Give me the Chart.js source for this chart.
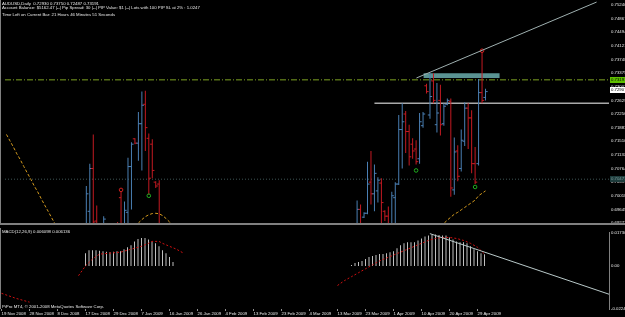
<!DOCTYPE html>
<html>
<head>
<meta charset="utf-8">
<script src="https://cdn.jsdelivr.net/npm/chart.js@4.4.0/dist/chart.umd.min.js"></script>
<style>
  html, body { margin: 0; padding: 0; background: #000; }
  #wrap { position: relative; width: 625px; height: 317px; overflow: hidden; background: #000; }
  canvas { position: absolute; left: 0; }
  #price { top: 0; }
  #macd { top: 228px; }
  .txt { position: absolute; left: 2px; color: #e8e8e8; font-family: "Liberation Sans", Arial, sans-serif;
         font-size: 4.3px; line-height: 5px; white-space: pre; }
</style>
</head>
<body>
<div id="wrap">
  <canvas id="price" width="625" height="228"></canvas>
  <canvas id="macd" width="625" height="89"></canvas>
  <div class="txt" style="top:1px">AUDUSD,Daily  0.72930 0.73750 0.72487 0.73191</div>
  <div class="txt" style="top:5px">Account Balance: $5162.47 |--| Pip Spread: 30 |--| PIP Value: $1 |--| Lots with 100 PIP SL at 2% : 1.0247</div>
  <div class="txt" style="top:12px">Time Left on Current Bar: 21 Hours 46 Minutes 51 Seconds</div>
  <div class="txt" style="top:229px">MACD(12,26,9) 0.006098 0.006136</div>
  <div class="txt" style="top:303.5px">PiPro MT4, &copy; 2001-2008 MetaQuotes Software Corp.</div>
</div>
<script>
// time axis (bar index -> date label)
const dateLabels = ['19 Nov 2008', '28 Nov 2008', '8 Dec 2008', '17 Dec 2008', '29 Dec 2008', '7 Jan 2009',
  '16 Jan 2009', '26 Jan 2009', '4 Feb 2009', '13 Feb 2009', '23 Feb 2009', '4 Mar 2009', '13 Mar 2009',
  '23 Mar 2009', '1 Apr 2009', '10 Apr 2009', '20 Apr 2009', '29 Apr 2009'];
const dateBars = [0, 8, 16, 24, 32, 40, 48, 56, 64, 72, 80, 88, 96, 104, 112, 120, 128, 136];

// price scale labels
const priceTicks = [0.75240, 0.74867, 0.74494, 0.74121, 0.73748, 0.73375, 0.73002, 0.72629, 0.72256,
  0.71883, 0.71510, 0.71137, 0.70764, 0.70391, 0.70018, 0.69645, 0.69272];

// daily OHLC bars that show inside the window (others are below it)
const barIdx = [23, 24, 25, 26, 28, 32, 33, 34, 35, 36, 37, 38, 39, 40, 41, 42, 43, 44,
  101, 102, 103, 104, 105, 106, 107, 108, 109, 110, 111, 112, 113, 114, 115, 116, 117, 118, 119, 120,
  121, 122, 123, 124, 125, 126, 127, 128, 129, 130, 131, 132, 133, 134, 135, 136, 137, 138];
const barOpen = [0.69112, 0.69592, 0.70764, 0.69326, 0.69032, 0.69219, 0.69965, 0.69165, 0.69565, 0.70817,
  0.71577, 0.71457, 0.71990, 0.72522, 0.71590, 0.71430, 0.70391, 0.70338,
  0.69112, 0.69645, 0.69432, 0.69539, 0.70391, 0.70071, 0.70151, 0.70365, 0.69592, 0.69459, 0.69219, 0.69965,
  0.70338, 0.71830, 0.72256, 0.71776, 0.71430, 0.71297, 0.71031, 0.71936, 0.73028, 0.72229, 0.73162, 0.71963,
  0.72629, 0.71990, 0.72522, 0.72602, 0.70178, 0.71244, 0.70764, 0.71510, 0.72416, 0.72149, 0.70897, 0.70897,
  0.72842, 0.72709];
const barHigh = [0.70285, 0.70897, 0.71697, 0.69752, 0.69459, 0.69299, 0.70151, 0.69858, 0.71057, 0.71483,
  0.71590, 0.72309, 0.72869, 0.72895, 0.71723, 0.71563, 0.70418, 0.70445,
  0.69885, 0.69778, 0.69565, 0.70951, 0.71244, 0.70871, 0.70525, 0.70498, 0.69619, 0.69725, 0.70125, 0.70391,
  0.72229, 0.72549, 0.72336, 0.71963, 0.71590, 0.71537, 0.72283, 0.72309, 0.73082, 0.73375, 0.73375, 0.73108,
  0.73055, 0.72549, 0.72682, 0.72682, 0.71616, 0.71403, 0.71830, 0.72576, 0.72549, 0.72362, 0.71350, 0.73215,
  0.73961, 0.72949];
const barLow = [0.69005, 0.69112, 0.68899, 0.69005, 0.68899, 0.68899, 0.68952, 0.69005, 0.69112, 0.69645,
  0.71430, 0.70977, 0.70711, 0.71244, 0.70045, 0.70498, 0.70231, 0.68899,
  0.69005, 0.68899, 0.69406, 0.69512, 0.69778, 0.69592, 0.69831, 0.69112, 0.69326, 0.69005, 0.69112, 0.69272,
  0.70311, 0.70764, 0.71190, 0.70844, 0.71031, 0.70871, 0.70897, 0.71883, 0.72815, 0.72123, 0.72549, 0.71750,
  0.71670, 0.71936, 0.72496, 0.69991, 0.70045, 0.70418, 0.70684, 0.71377, 0.71297, 0.70631, 0.70338, 0.70844,
  0.72549, 0.72629];
const barClose = [0.70071, 0.70764, 0.69299, 0.69112, 0.69379, 0.69005, 0.69165, 0.69619, 0.70817, 0.71430,
  0.71457, 0.71990, 0.72496, 0.71883, 0.70498, 0.70711, 0.70285, 0.69112,
  0.69645, 0.69165, 0.69539, 0.70338, 0.70071, 0.70631, 0.70445, 0.69831, 0.69459, 0.69112, 0.70018, 0.70338,
  0.71830, 0.72043, 0.71776, 0.71084, 0.71244, 0.70951, 0.72043, 0.72256, 0.72869, 0.72735, 0.72629, 0.72283,
  0.71963, 0.72469, 0.72629, 0.70231, 0.71217, 0.70551, 0.71537, 0.72416, 0.72149, 0.70897, 0.70391, 0.72842,
  0.72629, 0.72869];

// moving average (null = out of view)
const maIdx = [0, 1, 2, 3, 4, 5, 6, 7, 8, 9, 10, 11, 12, 13, 14, 15, 16, 17,
  37, 38, 39, 40, 41, 42, 43, 44, 45, 46, 47, 48, 49,
  125, 126, 127, 128, 129, 130, 131, 132, 133, 134, 135, 136, 137, 138];
const maVal = [0.71696, 0.71520, 0.71350, 0.71163, 0.71003, 0.70817, 0.70641, 0.70471, 0.70284, 0.70124,
  0.69938, 0.69762, 0.69592, 0.69416, 0.69245, 0.69069, 0.68899, null,
  0.69165, 0.69272, 0.69365, 0.69445, 0.69498, 0.69530, 0.69538, 0.69525, 0.69472, 0.69392, 0.69298, 0.69192, null,
  0.69192, 0.69259, 0.69352, 0.69432, 0.69512, 0.69565, 0.69632, 0.69698, 0.69765, 0.69831, 0.69898, 0.70018,
  0.70085, 0.70151];

// fractal marks
const fracUpIdx = [33, 137];
const fracUpVal = [0.70178, 0.73988];
const fracDnIdx = [41, 118, 135];
const fracDnVal = [0.70018, 0.70711, 0.70258];

// drawn objects / price lines
const bidPrice = 0.73191;
const markPrice = 0.72907;
const dotPrice = 0.70471;
const levelIdx = [106, 173.6];
const levelVal = [0.72549, 0.72549];
const trendIdx = [118.1, 170];
const trendVal = [0.73242, 0.75320];
const zoneIdx = [120.1, 142.1];
const zoneTop = [0.73375, 0.73375];
const zoneBottom = [0.73242, 0.73242];

// MACD(12,26,9): histogram and signal
const macdIdx = [24, 25, 26, 27, 28, 29, 30, 31, 32, 33, 34, 35, 36, 37, 38, 39, 40, 41, 42, 43, 44, 45, 46, 47, 48, 49,
  100, 101, 102, 103, 104, 105, 106, 107, 108, 109, 110, 111, 112, 113, 114, 115, 116, 117, 118, 119,
  120, 121, 122, 123, 124, 125, 126, 127, 128, 129, 130, 131, 132, 133, 134, 135, 136, 137, 138];
const macdVal = [0.00662, 0.00814, 0.00814, 0.00814, 0.00789, 0.00764, 0.00738, 0.00713, 0.00738, 0.00764,
  0.00764, 0.00865, 0.00967, 0.01069, 0.01273, 0.01400, 0.01451, 0.01451, 0.01374, 0.01273, 0.01171, 0.01018,
  0.00814, 0.00662, 0.00458, 0.00204,
  0.00051, 0.00153, 0.00204, 0.00255, 0.00356, 0.00458, 0.00509, 0.00560, 0.00611, 0.00611, 0.00662, 0.00713,
  0.00764, 0.00916, 0.01069, 0.01171, 0.01222, 0.01222, 0.01222, 0.01323, 0.01425, 0.01527, 0.01578, 0.01629,
  0.01629, 0.01603, 0.01578, 0.01578, 0.01476, 0.01374, 0.01273, 0.01222, 0.01222, 0.01171, 0.01018, 0.00865,
  0.00764, 0.00662, 0.006098];
const sigIdx = [0, 2, 4, 6, 8, 9, 22, 24, 26, 28, 31, 34, 37, 40, 42, 43, 45, 46, 48, 50, 52, 53,
  96, 98, 100, 102, 104, 106, 108, 110, 112, 114, 116, 118, 120, 122, 124, 126, 128, 130, 132, 134, 136, 138];
const sigVal = [-0.01425, -0.01552, -0.01680, -0.01782, -0.01883, null,
  -0.00509, 0, 0.00356, 0.00611, 0.00662, 0.00713, 0.00865, 0.01018, 0.01171, 0.01273, 0.01273, 0.01171,
  0.01018, 0.00865, 0.00662, null,
  -0.01018, -0.00764, -0.00560, -0.00356, -0.00153, 0.00051, 0.00255, 0.00407, 0.00560, 0.00713, 0.00865,
  0.01018, 0.01171, 0.01323, 0.01425, 0.01476, 0.01476, 0.01425, 0.01323, 0.01171, 0.00967, 0.006136];
const macdTrendIdx = [122.4, 173.6];
const macdTrendVal = [0.01676, -0.01473];
const macdTicks = [0.0173, 0, -0.0224];

const X_MIN = -0.4286, X_MAX = 173.571;
const FONT = { family: '"Liberation Sans", Arial, sans-serif', size: 4.3 };
const upColor = '#4a7fb3', downColor = '#c41a22';

const pts = (xs, ys) => xs.map((x, k) => ({ x: x, y: ys[k] }));
const barColors = barIdx.map((i, k) => (barClose[k] >= barOpen[k] ? upColor : downColor));

const frame = {
  id: 'frame',
  afterDraw(chart, args, opts) {
    const { ctx, chartArea } = chart;
    ctx.save();
    ctx.fillStyle = '#808080';
    ctx.fillRect(0, 0, 1, chartArea.bottom);
    if (opts.bottomBand) ctx.fillRect(0, chartArea.bottom, chart.width, 2);
    ctx.restore();
  }
};

const priceBoxes = {
  id: 'priceBoxes',
  afterDraw(chart) {
    const { ctx, scales } = chart;
    const boxes = [
      [markPrice, '#ffffff', '#000000'],
      [bidPrice, '#5fc000', '#000000'],
      [dotPrice, '#1e3c3c', '#7d9a9a']
    ];
    ctx.save();
    ctx.font = '4.3px "Liberation Sans", Arial, sans-serif';
    ctx.textBaseline = 'middle';
    boxes.forEach(([v, bg, fg]) => {
      const py = Math.round(scales.y.getPixelForValue(v));
      ctx.fillStyle = bg;
      ctx.fillRect(610, py - 3, 15, 6);
      ctx.fillStyle = fg;
      ctx.fillText(v.toFixed(5), 611, py + 0.3);
    });
    ctx.restore();
  }
};

new Chart(document.getElementById('price'), {
  type: 'bar',
  data: {
    datasets: [
      { type: 'line', data: pts(zoneIdx, zoneTop), borderWidth: 0, pointRadius: 0,
        backgroundColor: '#5a9393', fill: '+1', order: 20 },
      { type: 'line', data: pts(zoneIdx, zoneBottom), borderWidth: 0, pointRadius: 0, order: 20 },
      { type: 'line', data: pts([X_MIN, X_MAX], [dotPrice, dotPrice]), borderColor: '#3d5454',
        borderWidth: 1, borderDash: [1, 2], pointRadius: 0, order: 15 },
      { type: 'line', data: pts([X_MIN, X_MAX], [bidPrice, bidPrice]), borderColor: '#7ea322',
        borderWidth: 1, borderDash: [6, 2, 1, 2], pointRadius: 0, order: 15 },
      { type: 'line', data: pts(levelIdx, levelVal), borderColor: '#a9a9a9', borderWidth: 1.5,
        pointRadius: 0, order: 14 },
      { type: 'line', data: pts(maIdx, maVal), borderColor: '#d39a1e', borderWidth: 1,
        borderDash: [3, 2], pointRadius: 0, spanGaps: false, order: 12 },
      { type: 'bar', data: barIdx.map((i, k) => ({ x: i, y: [barLow[k], barHigh[k]] })),
        backgroundColor: barColors, borderWidth: 0, barThickness: 1, inflateAmount: 0, order: 10 },
      { type: 'scatter', data: pts(barIdx.map(i => i - 0.3), barOpen), pointStyle: 'line',
        pointRadius: 1.1, pointHoverRadius: 1.1, pointBorderWidth: 1, borderColor: barColors, order: 9 },
      { type: 'scatter', data: pts(barIdx.map(i => i + 0.3), barClose), pointStyle: 'line',
        pointRadius: 1.1, pointHoverRadius: 1.1, pointBorderWidth: 1, borderColor: barColors, order: 9 },
      { type: 'scatter', data: pts(fracUpIdx, fracUpVal), pointStyle: 'circle', pointRadius: 1.8,
        backgroundColor: 'transparent', borderColor: '#d02020', pointBorderWidth: 1, order: 5 },
      { type: 'scatter', data: pts(fracDnIdx, fracDnVal), pointStyle: 'circle', pointRadius: 1.8,
        backgroundColor: 'transparent', borderColor: '#20b020', pointBorderWidth: 1, order: 5 },
      { type: 'line', data: pts(trendIdx, trendVal), borderColor: '#9fb0b0', borderWidth: 1,
        pointRadius: 0, clip: false, order: 1 }
    ]
  },
  options: {
    responsive: false,
    devicePixelRatio: 1,
    animation: false,
    events: [],
    layout: { padding: { top: 2, bottom: 2, left: 0, right: 0 } },
    plugins: { legend: { display: false }, tooltip: { enabled: false }, frame: { bottomBand: true } },
    scales: {
      x: { type: 'linear', min: X_MIN, max: X_MAX, offset: false, display: false },
      y: {
        position: 'right', min: 0.69272, max: 0.75240,
        afterFit: s => { s.width = 16; },
        afterBuildTicks: s => { s.ticks = priceTicks.map(v => ({ value: v })); },
        grid: { display: false, drawTicks: false },
        border: { display: false },
        ticks: { color: '#e8e8e8', font: FONT, padding: 2, autoSkip: false,
          callback: v => v.toFixed(5) }
      }
    }
  },
  plugins: [frame, priceBoxes]
});

new Chart(document.getElementById('macd'), {
  type: 'bar',
  data: {
    datasets: [
      { type: 'bar', data: pts(macdIdx, macdVal), backgroundColor: '#c0c0c0', borderWidth: 0,
        barThickness: 1, inflateAmount: 0, order: 10 },
      { type: 'line', data: pts(sigIdx, sigVal), borderColor: '#d01010', borderWidth: 1,
        borderDash: [2, 2], pointRadius: 0, spanGaps: false, order: 5 },
      { type: 'line', data: pts(macdTrendIdx, macdTrendVal), borderColor: '#b9c9c9', borderWidth: 1,
        pointRadius: 0, order: 1 }
    ]
  },
  options: {
    responsive: false,
    devicePixelRatio: 1,
    animation: false,
    events: [],
    layout: { padding: { top: 3, bottom: 0, left: 0, right: 0 } },
    plugins: { legend: { display: false }, tooltip: { enabled: false }, frame: { bottomBand: false } },
    scales: {
      x: {
        type: 'linear', min: X_MIN, max: X_MAX, offset: false, position: 'bottom',
        afterFit: s => { s.height = 8; },
        afterBuildTicks: s => { s.ticks = dateBars.map(v => ({ value: v })); },
        grid: { display: true, drawOnChartArea: false, drawTicks: true, tickLength: 2, offset: false,
          color: '#909090' },
        border: { display: false },
        ticks: { color: '#e8e8e8', font: FONT, padding: 0, align: 'start', autoSkip: false,
          maxRotation: 0, minRotation: 0, callback: v => dateLabels[dateBars.indexOf(v)] }
      },
      y: {
        position: 'right', min: -0.0224, max: 0.0173,
        afterFit: s => { s.width = 16; },
        afterBuildTicks: s => { s.ticks = macdTicks.map(v => ({ value: v })); },
        grid: { display: false, drawTicks: false },
        border: { display: true, color: '#808080' },
        ticks: { color: '#e8e8e8', font: FONT, padding: 2, autoSkip: false,
          callback: v => (v === 0 ? '0.00' : v.toFixed(5)) }
      }
    }
  },
  plugins: [frame]
});
</script>
</body>
</html>
